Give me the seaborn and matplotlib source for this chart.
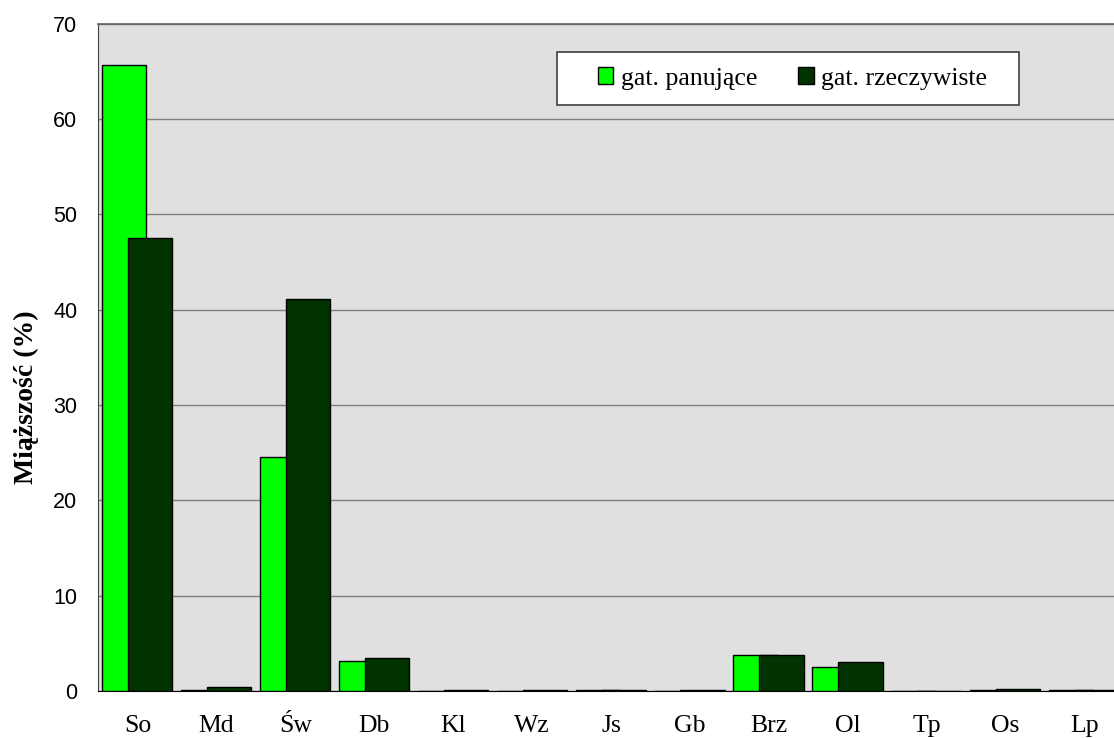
import numpy as np
import pandas as pd
import matplotlib
matplotlib.use("Agg")
import matplotlib.pyplot as plt
from matplotlib.patches import Patch, Rectangle
import seaborn as sns

# data
species = ["So", "Md", "Św", "Db", "Kl", "Wz", "Js", "Gb", "Brz", "Ol", "Tp", "Os", "Lp"]
dominant = [65.7, 0.1, 24.6, 3.1, 0.0, 0.0, 0.1, 0.0, 3.8, 2.5, 0.0, 0.1, 0.1]
actual = [47.5, 0.4, 41.1, 3.5, 0.1, 0.1, 0.1, 0.1, 3.8, 3.0, 0.0, 0.2, 0.1]
labels = ["gat. panujące", "gat. rzeczywiste"]

light_green = "#00FF00"
dark_green = "#003300"

sns.set_style("white", rc={"text.color": "black", "axes.labelcolor": "black",
                           "xtick.color": "black", "ytick.color": "black"})

fig = plt.figure(figsize=(11.14, 7.38), dpi=100)
ax = fig.add_axes([0.088, 0.0637, 0.921, 0.904])
ax.set_facecolor("#E0E0E0")

idx = np.arange(len(species))
df = pd.DataFrame({"pos": idx, "dominant": dominant, "actual": actual})

# Excel-style overlapping bars: dark series drawn on top of the light one
sns.barplot(x=df["pos"] - 0.17, y=df["dominant"], native_scale=True, orient="x",
            width=0.56, color=light_green, saturation=1, edgecolor="black",
            linewidth=1, ax=ax, zorder=3)
sns.barplot(x=df["pos"] + 0.16, y=df["actual"], native_scale=True, orient="x",
            width=0.56, color=dark_green, saturation=1, edgecolor="black",
            linewidth=1, ax=ax, zorder=4)

ax.set_xlim(-0.5, len(species) - 0.5)
ax.set_ylim(0, 70)

# major ticks on category boundaries, labels on minor ticks at centres
ax.set_xticks(idx - 0.5)
ax.set_xticklabels([])
ax.set_xticks(idx, minor=True)
ax.set_xticklabels(species, minor=True, fontsize=18.5, family="Liberation Serif")
ax.tick_params(axis="x", which="major", direction="inout", length=12, width=1, color="black")
ax.tick_params(axis="x", which="minor", length=0, pad=17, labelcolor="black")

ax.set_yticks(np.arange(0, 71, 10))
ax.set_yticklabels([str(v) for v in range(0, 71, 10)], fontsize=15.5, family="Liberation Sans")
ax.tick_params(axis="y", direction="inout", length=10, width=1, color="black",
               pad=10, labelcolor="black")

ax.yaxis.grid(True, color="#808080", linewidth=1)
ax.set_axisbelow(True)

for s in ["top", "right"]:
    ax.spines[s].set_color("#606060")
    ax.spines[s].set_linewidth(1.2)
ax.spines["left"].set_color("#404040")
ax.spines["bottom"].set_color("black")

ax.set_xlabel("")
ax.set_ylabel("Miąższość (%)", fontsize=20, fontweight="bold",
              family="Liberation Serif", labelpad=10, color="black")
ax.yaxis.label.set_y(0.441)

# legend box drawn separately so the padding matches the original
box = Rectangle((0.4474, 0.8786), 0.4503, 0.0794, transform=ax.transAxes,
                facecolor="white", edgecolor="#404040", linewidth=1.2, zorder=9)
ax.add_patch(box)
handles = [Patch(facecolor=light_green, edgecolor="black", linewidth=1),
           Patch(facecolor=dark_green, edgecolor="black", linewidth=1)]
leg = ax.legend(handles, labels, loc="center", bbox_to_anchor=(0.677, 0.918),
                ncol=2, frameon=False,
                prop={"family": "Liberation Serif", "size": 18.5},
                handlelength=0.6, handleheight=0.6, handletextpad=0.3,
                columnspacing=1.6, borderpad=0, borderaxespad=0)
for t in leg.get_texts():
    t.set_color("black")
leg.set_zorder(10)

fig.savefig("out.png", dpi=100)
